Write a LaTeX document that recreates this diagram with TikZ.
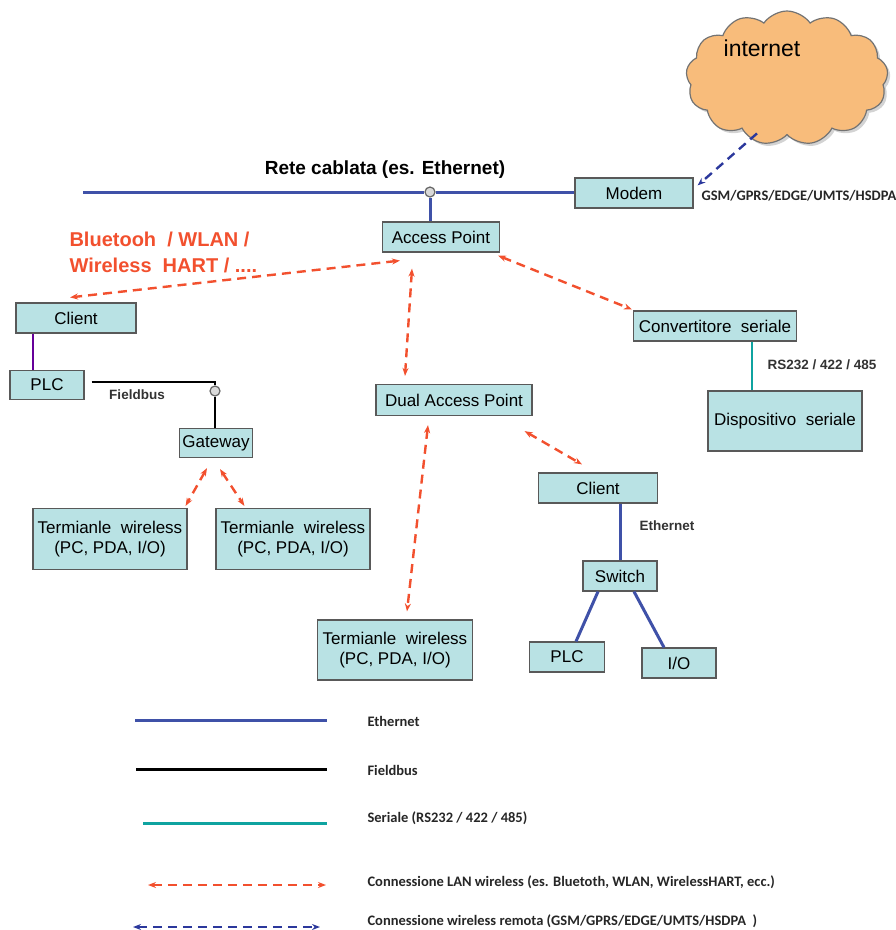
\documentclass[tikz,border=0pt]{standalone}
\usepackage{fontspec}
\setmainfont{Liberation Sans}
\newfontfamily\narrowfont{Carlito}
\usepackage{tikz}
\usetikzlibrary{arrows.meta,shapes.symbols,shadows}
\definecolor{boxfill}{HTML}{B9E2E4}
\definecolor{ethblue}{HTML}{3F51A8}
\definecolor{serteal}{HTML}{0FA3A0}
\definecolor{wlred}{HTML}{F2502E}
\definecolor{remblue}{HTML}{2B389C}
\definecolor{cloudfill}{HTML}{F8BC7B}
\tikzset{
 dev/.style={draw=black!65,line width=1.2pt,fill=boxfill,font=\fontsize{17}{20}\selectfont,
  inner sep=0pt,align=center},
 ethline/.style={ethblue,line width=3pt},
 fbline/.style={black,line width=3pt},
 serline/.style={serteal,line width=3pt},
 wl/.style={wlred,line width=2.4pt,dash pattern=on 9pt off 6pt,{Stealth[length=8pt]}-{Stealth[length=8pt]}},
 rem/.style={remblue,line width=2.4pt,dash pattern=on 9pt off 6pt},
 remleg/.style={rem,{Stealth[length=8pt]}-{Stealth[length=8pt]}},
 junct/.style={circle,draw=black!60,fill=black!15,line width=1.2pt,minimum size=10pt,inner sep=0pt},
 smalltxt/.style={font=\fontsize{13.5}{16}\selectfont\bfseries,text=black!80},
 legtxt/.style={font=\narrowfont\fontsize{14.5}{17}\selectfont\bfseries,text=black!85,anchor=west}
}

\begin{document}
\begin{tikzpicture}[x=1pt,y=-1pt]
\useasboundingbox (0,0) rectangle (896,930);
% cloud and wired network
\node[cloud,cloud puffs=13,cloud puff arc=110,draw=black!55,line width=1.2pt,fill=cloudfill,
 minimum width=202pt,minimum height=134pt,drop shadow={opacity=0.35}] (inet) at (787,78) {};
\node[font=\fontsize{23}{26}\selectfont] (inettxt) at (762,48) {internet};
\node[dev,minimum width=118pt,minimum height=30pt] (modem) at (634,193) {Modem};
\node[font=\fontsize{19}{22}\selectfont\bfseries] (rete) at (385,170) {Rete cablata (es. Ethernet)};
\coordinate (eth0) at (83,192);
\node[junct] (j1) at (430,192) {};
\draw[ethline] (eth0) -- (j1.west) (j1.east) -- (j1.east -| modem.west);
\node[dev,minimum width=117pt,minimum height=30pt] (ap) at (441,237) {Access Point};
\draw[ethline] (j1.south) -- (j1 |- ap.north);
\draw[rem,-{Stealth[length=8pt]}] ([xshift=-30pt,yshift=2pt]inet.south) -- ([xshift=4pt,yshift=-8pt]modem.north east);
\node[legtxt] (gsm) at (698,196) {GSM/GPRS/EDGE/UMTS/HSDPA};
\node[font=\fontsize{20}{26}\selectfont\bfseries,text=wlred,align=left,anchor=north west] (bt)
 at (66,228) {Bluetooh \ / WLAN /\\Wireless \ HART / ....};

% left branch
\node[dev,minimum width=120pt,minimum height=30pt] (cl1) at (76,318) {Client};
\node[dev,minimum width=74pt,minimum height=29pt] (plc1) at (47,385) {PLC};
\node[junct] (j2) at (215,391) {};
\node[dev,minimum width=73pt,minimum height=29pt] (gw) at (216,443) {Gateway};
\node[dev,minimum width=154pt,minimum height=61pt] (t1) at (110,539) {Termianle \ wireless\\(PC, PDA, I/O)};
\node[dev,minimum width=154pt,minimum height=61pt] (t2) at (293,539) {Termianle \ wireless\\(PC, PDA, I/O)};
\draw[line width=2pt,violet!80!blue] ([xshift=-43pt]cl1.south) -- ([xshift=-43pt]cl1.south |- plc1.north);
\draw[fbline,line width=2pt] ([xshift=7pt,yshift=3pt]plc1.east) -| (j2.north);
\draw[fbline,line width=2pt] (j2.south) -- (j2 |- gw.north);
\node[smalltxt] (fb) at (137,395) {Fieldbus};
\draw[wl] ([xshift=-41pt,yshift=-8pt]ap.south) -- ([xshift=-6pt,yshift=5pt]cl1.north);
\draw[wl] ([xshift=-9pt,yshift=-10pt]gw.south) -- ([xshift=-2pt,yshift=2pt]t1.north east);
\draw[wl] ([xshift=4pt,yshift=-11pt]gw.south) -- ([xshift=29pt,yshift=2pt]t2.north west);

% middle and right branches
\node[dev,minimum width=156pt,minimum height=31pt] (dap) at (454,400) {Dual Access Point};
\node[dev,minimum width=155pt,minimum height=60pt] (t3) at (395,650) {Termianle \ wireless\\(PC, PDA, I/O)};
\node[dev,minimum width=163pt,minimum height=30pt] (conv) at (715,326) {Convertitore \ seriale};
\node[dev,minimum width=154pt,minimum height=60pt] (disp) at (785,421) {Dispositivo \ seriale};
\node[dev,minimum width=119pt,minimum height=30pt] (cl2) at (598,488) {Client};
\node[dev,minimum width=74pt,minimum height=30pt] (sw) at (620,576) {Switch};
\node[dev,minimum width=75pt,minimum height=30pt] (plc2) at (567,657) {PLC};
\node[dev,minimum width=74pt,minimum height=30pt] (io) at (679,663) {I/O};
\draw[wl] ([xshift=-29pt,yshift=-16pt]ap.south) -- ([xshift=-49pt,yshift=8pt]dap.north);
\draw[wl] ([xshift=-2pt,yshift=-3pt]ap.south east) -- ([xshift=-1pt,yshift=1pt]conv.north west);
\draw[wl] ([xshift=-26pt,yshift=-9pt]dap.south) -- ([xshift=12pt,yshift=8pt]t3.north);
\draw[wl] ([xshift=-8pt,yshift=-15pt]dap.south east) -- ([xshift=-16pt,yshift=8pt]cl2.north);
\draw[serline,line width=2pt] ([xshift=37pt]conv.south) -- ([xshift=37pt]conv.south |- disp.north);
\node[smalltxt] (rs) at (822,365) {RS232 / 422 / 485};
\draw[ethline] (sw.north) -- (sw.north |- cl2.south);
\node[smalltxt] (ethlab) at (667,526) {Ethernet};
\draw[ethline] ([xshift=-22pt]sw.south) -- ([xshift=9pt]plc2.north);
\draw[ethline] ([xshift=14pt]sw.south) -- ([xshift=-15pt]io.north);

% legend
\foreach \st/\y/\ty/\xa/\xb/\txt [count=\i] in {
 ethline/720/721/135/327/Ethernet,
 fbline/769/770/136/327/Fieldbus,
 serline/823/818/143/327/{Seriale (RS232 / 422 / 485)},
 wl/885/882/148/326/{Connessione LAN wireless (es. Bluetoth, WLAN, WirelessHART, ecc.)},
 remleg/927/921/133/320/{Connessione wireless remota (GSM/GPRS/EDGE/UMTS/HSDPA \ )}}{
 \coordinate (la\i) at (\xa,\y);
 \coordinate (lb\i) at (\xb,\y);
 \draw[\st] (la\i) -- (lb\i);
 \node[legtxt] (lt\i) at (364,\ty) {\txt};
}
\end{tikzpicture}
\end{document}
